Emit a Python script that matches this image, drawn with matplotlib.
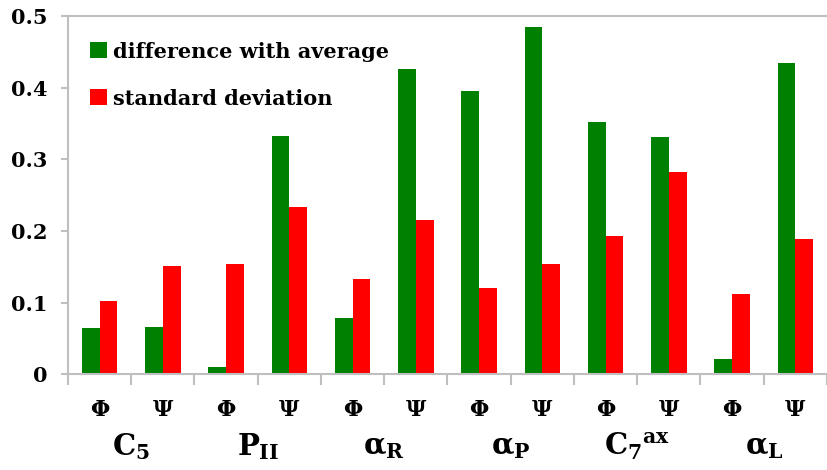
import numpy as np
import matplotlib
matplotlib.use("Agg")
import matplotlib.pyplot as plt
import matplotlib.transforms as mtransforms

plt.rcParams['font.family'] = ['DejaVu Serif']
plt.rcParams['font.weight'] = 'bold'
plt.rcParams['mathtext.fontset'] = 'custom'
plt.rcParams['mathtext.rm'] = 'DejaVu Serif:bold'
plt.rcParams['mathtext.it'] = 'DejaVu Serif:bold'
plt.rcParams['mathtext.bf'] = 'DejaVu Serif:bold'

angles = ['Φ', 'Ψ'] * 6
groups = [r'$C_5$', r'$P_{II}$', r'$\alpha_R$', r'$\alpha_P$', r'$C_7{}^{ax}$', r'$\alpha_L$']
diff_avg = [0.065, 0.066, 0.010, 0.333, 0.079, 0.426, 0.395, 0.485, 0.352, 0.331, 0.022, 0.434]
std_dev = [0.102, 0.152, 0.154, 0.233, 0.133, 0.216, 0.121, 0.154, 0.193, 0.282, 0.112, 0.189]

grey = '#BFBFBF'

fig = plt.figure(figsize=(8.27, 4.70), dpi=100)
ax = fig.add_axes([0.0822, 0.2032, 0.9178, 0.7628])

x = np.arange(len(angles))
w = 0.28
ax.bar(x - w / 2, diff_avg, w, color='#008000', label='difference with average')
ax.bar(x + w / 2, std_dev, w, color='#FF0000', label='standard deviation')

ax.set_xlim(-0.5, 11.36)
ax.set_ylim(0, 0.5)
ax.set_yticks([0, 0.1, 0.2, 0.3, 0.4, 0.5])
ax.set_yticklabels(['0', '0.1', '0.2', '0.3', '0.4', '0.5'], fontsize=15, fontweight='bold')
ax.tick_params(axis='y', length=5, width=1.5, color=grey, pad=10)

ax.set_xticks(x)
ax.set_xticklabels(angles, fontsize=16, fontweight='bold')
ax.set_xticks(np.arange(-0.5, 12, 1), minor=True)
ax.tick_params(axis='x', which='major', length=0, pad=18)
ax.tick_params(axis='x', which='minor', length=8, width=1.5, color=grey)

for side in ['left', 'bottom', 'top']:
    ax.spines[side].set_color(grey)
    ax.spines[side].set_linewidth(1.5)
ax.spines['right'].set_visible(False)

trans = mtransforms.blended_transform_factory(ax.transData, ax.transAxes)
for i, g in enumerate(groups):
    ax.text(2 * i + 0.5, -0.2, g, transform=trans, ha='center', va='center', fontsize=21)

leg = ax.legend(loc='upper left', bbox_to_anchor=(0.018, 0.952), frameon=False,
                prop={'size': 15, 'weight': 'bold'}, handlelength=0.82, handleheight=0.82,
                handletextpad=0.3, labelspacing=1.3, borderaxespad=0)

fig.savefig('out.png', dpi=100)
